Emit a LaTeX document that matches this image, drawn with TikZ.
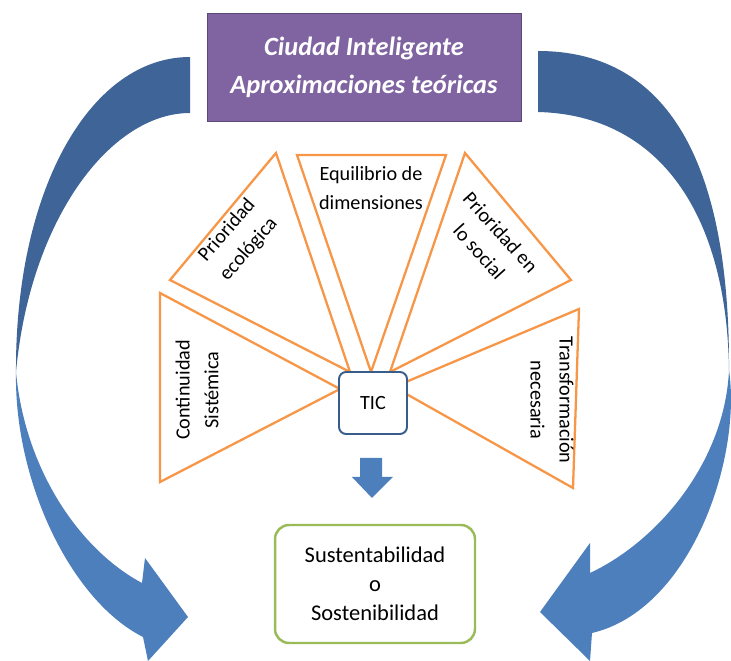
\documentclass[tikz,border=0pt]{standalone}
\usepackage{fontspec}
\setmainfont{Carlito}
\definecolor{titlepurple}{RGB}{128,100,162}
\definecolor{titleedge}{RGB}{92,71,118}
\definecolor{petalorange}{RGB}{247,150,70}
\definecolor{ticblue}{RGB}{56,93,138}
\definecolor{arrowdark}{RGB}{62,100,152}
\definecolor{arrowlight}{RGB}{76,127,188}
\definecolor{sustgreen}{RGB}{155,187,89}

\begin{document}
\begin{tikzpicture}[x=0.02cm, y=-0.02cm,
    petal/.style={draw=petalorange, line width=1.3pt, fill=white},
    petaltext/.style={font=\fontsize{11.5}{16.4}\selectfont, align=center, inner sep=0pt},
    titlebox/.style={draw=titleedge, fill=titlepurple, text=white, align=center,
      font=\fontsize{15}{21.5}\selectfont\bfseries\itshape,
      minimum width=6.28cm, minimum height=2.16cm, inner sep=0pt},
    ticbox/.style={draw=ticblue, line width=1.1pt, fill=white, rounded corners=4pt,
      font=\fontsize{11.5}{14}\selectfont, minimum width=1.36cm, minimum height=1.24cm},
    sustbox/.style={draw=sustgreen, line width=1.4pt, fill=white, rounded corners=8pt,
      align=center, font=\fontsize{12.8}{16.4}\selectfont,
      minimum width=4cm, minimum height=2.36cm}]
  \useasboundingbox (0,0) rectangle (731,661);

  % curved arrows
  \fill[arrowdark] (190,57) .. controls (90,57) and (15,190) .. (16,372)
    .. controls (30,220) and (110,113) .. (190,113) -- cycle;
  \fill[arrowlight] (16,372) .. controls (14,480) and (70,600) .. (143,637)
    -- (148,661) -- (188,617) -- (145,558) -- (142,583)
    .. controls (80,550) and (25,470) .. (16,372) -- cycle;
  \fill[arrowdark] (538,51) .. controls (660,51) and (730,150) .. (729,370)
    .. controls (727,215) and (660,115) .. (538,112) -- cycle;
  \fill[arrowlight] (729,370) .. controls (742,460) and (690,610) .. (592,633)
    -- (590,661) -- (540,612) -- (590,543) -- (590,573)
    .. controls (660,540) and (725,460) .. (729,370) -- cycle;

  % petals round the TIC box
  \draw[petal] (276,153) -- (170,280) -- (350,372) -- cycle;
  \draw[petal] (297,155) -- (446,155) -- (371,372) -- cycle;
  \draw[petal] (465,153) -- (571,280) -- (390,372) -- cycle;
  \draw[petal] (160,293) -- (160,482) -- (340,389) -- cycle;
  \draw[petal] (579,309) -- (573,488) -- (394,387) -- cycle;

  \node[petaltext, rotate=49] (ecoLbl) at (238,240) {Prioridad\\ecológica};
  \node[petaltext] (equLbl) at (371,188) {Equilibrio de\\dimensiones};
  \node[petaltext, rotate=-48] (socLbl) at (490,242) {Prioridad en\\lo social};
  \node[petaltext, rotate=90] (conLbl) at (197,390) {Continuidad\\Sistémica};
  \node[petaltext, rotate=-90] (traLbl) at (552,400) {Transformación\\necesaria};

  \node[ticbox] (tic) at (373,403) {TIC};

  % down arrow
  \fill[arrowlight] (360,458) -- (382,458) -- (382,477) -- (393,477) -- (372,498)
    -- (352,477) -- (360,477) -- cycle;

  \node[sustbox] (sust) at (375,584) {Sustentabilidad\\o\\Sostenibilidad};

  \node[titlebox] (title) at (364,67) {Ciudad Inteligente\\Aproximaciones teóricas};
\end{tikzpicture}
\end{document}
